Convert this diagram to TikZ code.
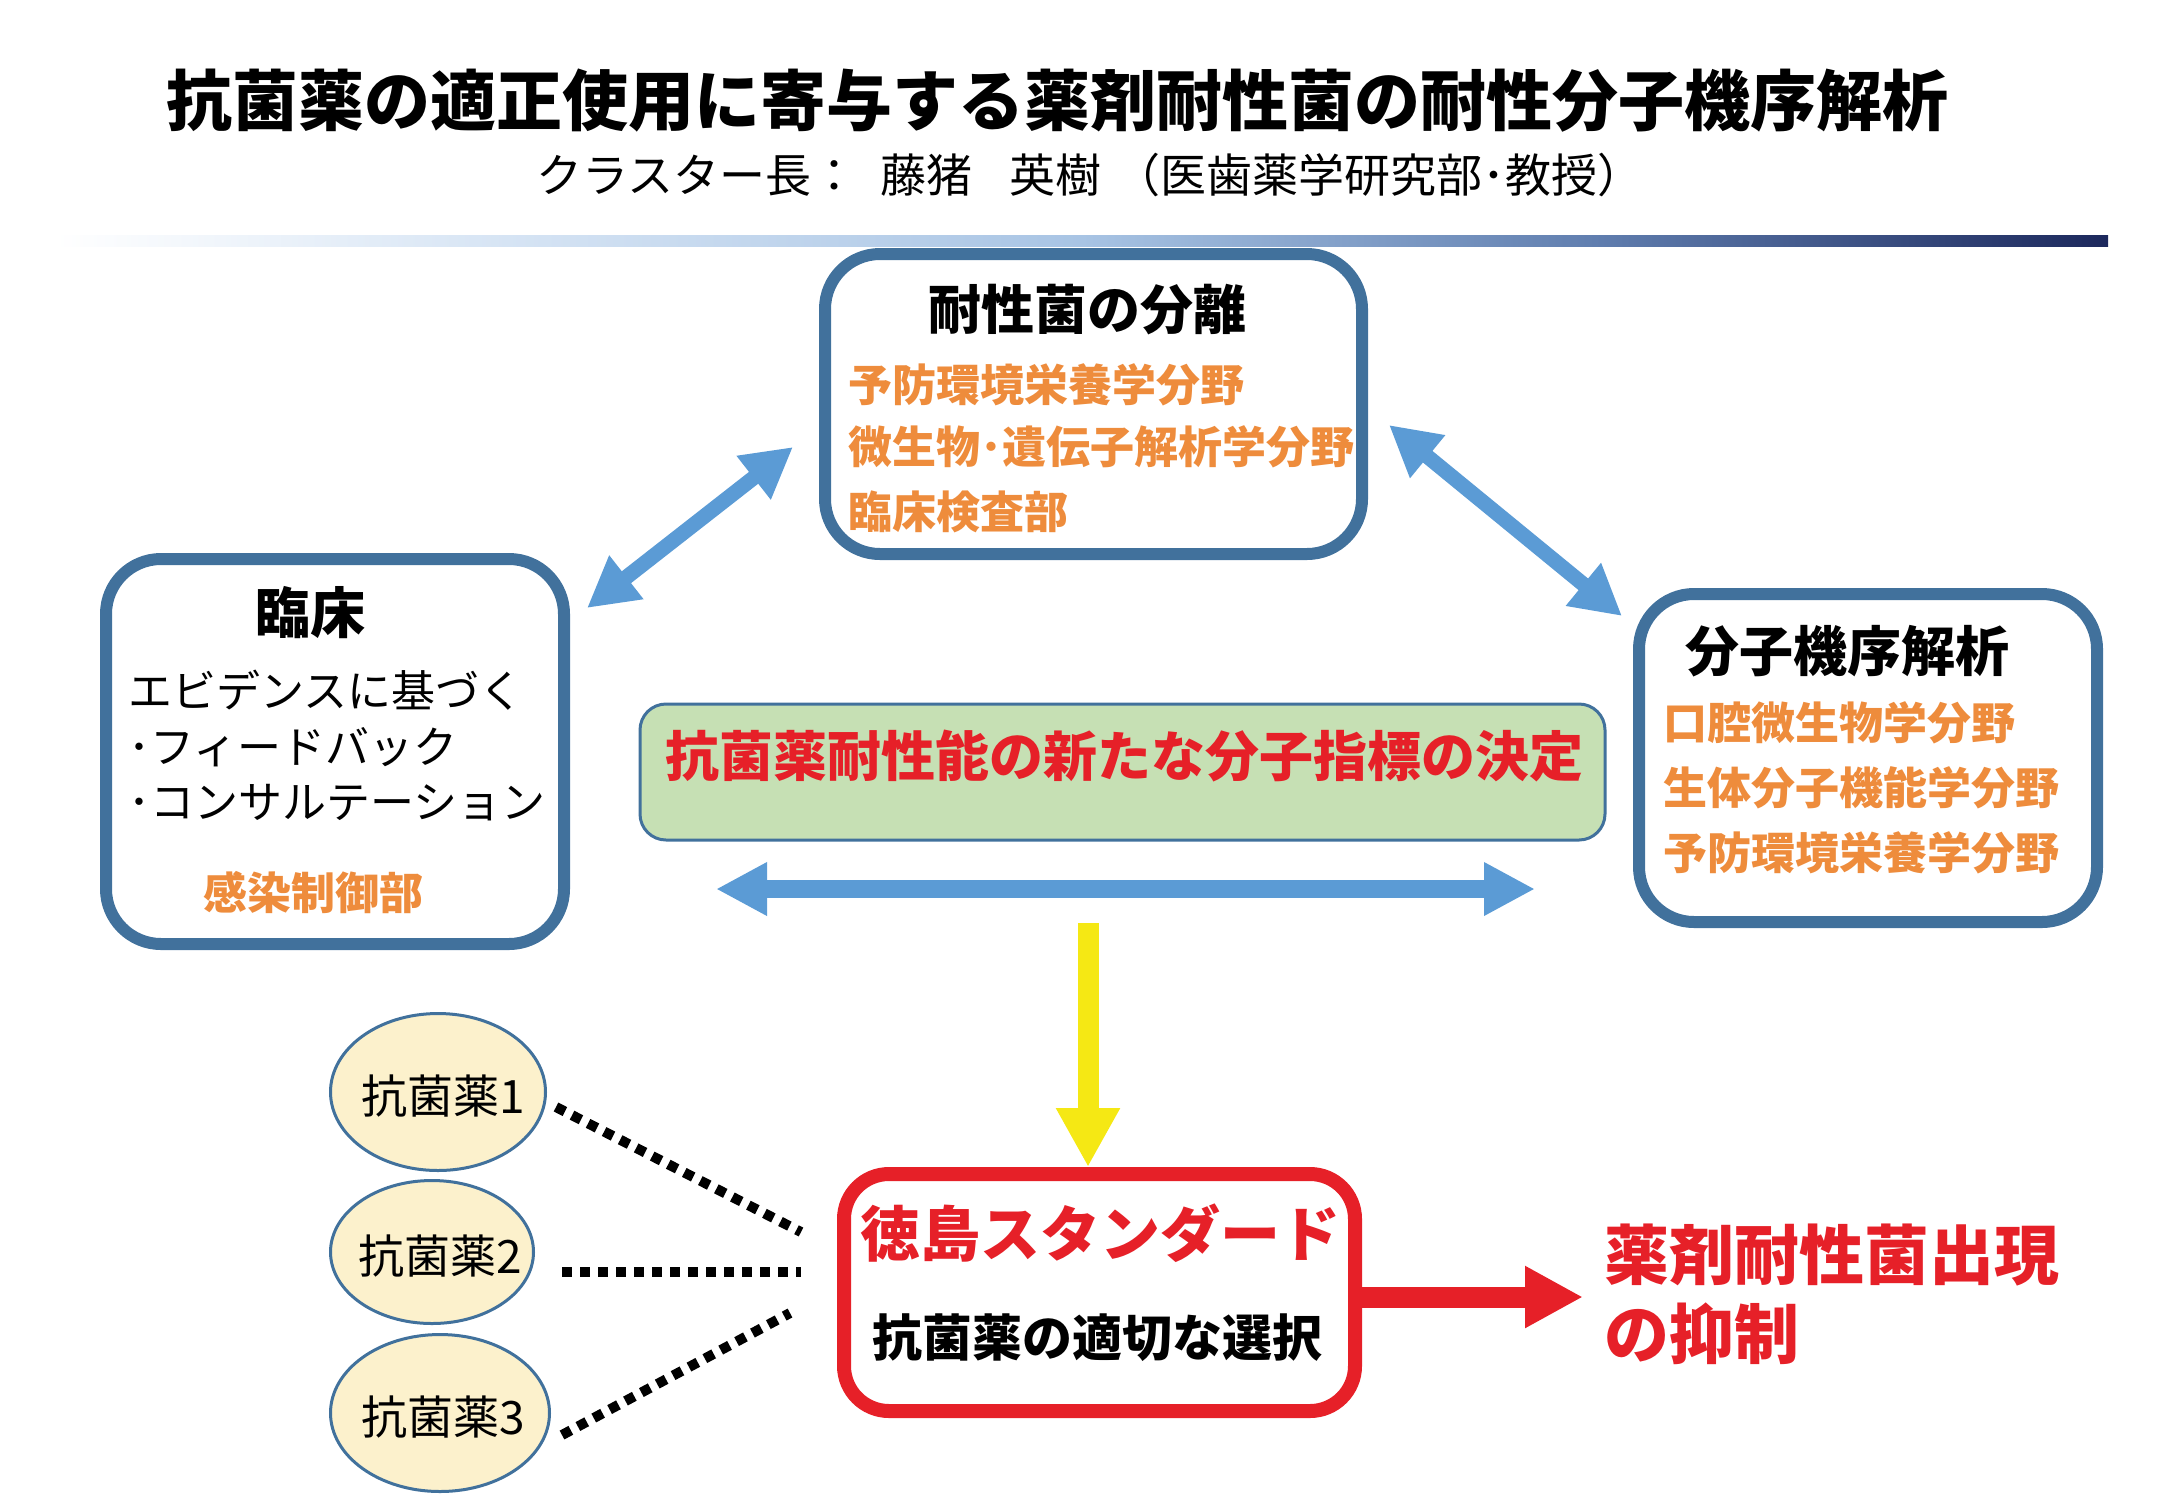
\documentclass[tikz,border=0pt]{standalone}
\usepackage{fontspec}
\setmainfont{Noto Sans CJK JP}
\usetikzlibrary{arrows.meta,shapes.geometric}
\definecolor{boxblue}{RGB}{65,113,156}
\definecolor{arrowblue}{RGB}{91,155,213}
\definecolor{orangetxt}{RGB}{238,140,60}
\definecolor{redtxt}{RGB}{230,32,40}
\definecolor{greenfill}{RGB}{198,224,180}
\definecolor{creamfill}{RGB}{252,241,204}
\definecolor{yellowarrow}{RGB}{245,232,20}
\definecolor{navy}{RGB}{28,40,92}
\definecolor{paleblue}{RGB}{214,228,244}
\definecolor{lightblue}{RGB}{168,196,228}
\definecolor{steelbar}{RGB}{96,126,175}
\pgfdeclarehorizontalshading{barshade}{100bp}{color(0bp)=(white); color(25bp)=(white); color(36bp)=(paleblue); color(50bp)=(lightblue); color(62.5bp)=(steelbar); color(75bp)=(navy); color(100bp)=(navy)}
\newcommand{\setfs}[1]{\fontsize{#1}{#1}\selectfont}
\begin{document}
\begin{tikzpicture}[x=1pt,y=-1pt,
  txt/.style={inner sep=0pt, outer sep=0pt},
  bigbox/.style={draw=boxblue, line width=12pt, rounded corners=55pt, fill=white, inner sep=0pt},
  drug/.style={ellipse, draw=boxblue, line width=3pt, fill=creamfill, inner sep=0pt},
  orangeline/.style={txt, anchor=west, text=orangetxt, font=\setfs{44}\bfseries},
  blackline/.style={txt, anchor=west, font=\setfs{44}},
  bluearrow/.style={draw=arrowblue, line width=#1pt},
  dotline/.style={draw=black, line width=10pt, dash pattern=on 10pt off 8pt}
]
\path[use as bounding box] (0,0) rectangle (2167,1500);

% title
\node[txt, font=\setfs{66}\bfseries] (title) at (1057,101) {抗菌薬の適正使用に寄与する薬剤耐性菌の耐性分子機序解析};
\node[txt, font=\setfs{46}] (sub) at (1090,175) {クラスター長：\hspace{0.5em}藤猪\hspace{0.8em}英樹\hspace{0.3em}（医歯薬学研究部･教授）};

% gradient bar
\shade[shading=barshade] (55,235) rectangle (2108,246);

% boxes
\node[bigbox, minimum width=537pt, minimum height=300pt] (iso) at (1093.5,404) {};
\node[bigbox, minimum width=458pt, minimum height=385pt] (clin) at (335,751.5) {};
\node[bigbox, minimum width=458pt, minimum height=328pt] (mol) at (1868,758) {};
\node[draw=boxblue, line width=3pt, fill=greenfill, rounded corners=26pt, minimum width=965pt, minimum height=136pt, inner sep=0pt] (idx) at (1122.5,772) {};
\node[draw=redtxt, line width=14pt, fill=white, rounded corners=45pt, minimum width=511pt, minimum height=237pt, inner sep=0pt] (std) at (1099.5,1292.5) {};

% top box text
\node[txt, font=\setfs{53}\bfseries] (isoT) at (1087,310) {耐性菌の分離};
\node[orangeline] (iso1) at (848,385) {予防環境栄養学分野};
\node[orangeline] (iso2) at (848,447) {微生物･遺伝子解析学分野};
\node[orangeline] (iso3) at (848,512) {臨床検査部};

% left box text
\node[txt, font=\setfs{55}\bfseries] (clinT) at (310,613) {臨床};
\node[blackline] (cl1) at (128,690) {エビデンスに基づく};
\node[blackline] (cl2) at (128,747) {･フィードバック};
\node[blackline] (cl3) at (128,803) {･コンサルテーション};
\node[txt, text=orangetxt, font=\setfs{44}\bfseries] (cl4) at (313,893) {感染制御部};

% right box text
\node[txt, font=\setfs{54}\bfseries] (molT) at (1847,651) {分子機序解析};
\node[orangeline] (mo1) at (1663,723) {口腔微生物学分野};
\node[orangeline] (mo2) at (1663,788) {生体分子機能学分野};
\node[orangeline] (mo3) at (1663,853) {予防環境栄養学分野};

% green box text
\node[txt, text=redtxt, font=\setfs{54}\bfseries] (idxT) at (1124,756) {抗菌薬耐性能の新たな分子指標の決定};

% standard box text
\node[txt, text=redtxt, font=\setfs{60}\bfseries] (std1) at (1100,1233) {徳島スタンダード};
\node[txt, font=\setfs{50}\bfseries] (std2) at (1097,1338) {抗菌薬の適切な選択};

% result text
\node[txt, anchor=west, text=redtxt, font=\setfs{65}\bfseries] (res1) at (1604,1255) {薬剤耐性菌出現};
\node[txt, anchor=west, text=redtxt, font=\setfs{65}\bfseries] (res2) at (1604,1334) {の抑制};

% drugs
\node[drug, minimum width=215pt, minimum height=157pt] (d1) at (438,1092) {};
\node[drug, minimum width=203pt, minimum height=143pt] (d2) at (432,1252) {};
\node[drug, minimum width=219pt, minimum height=157pt] (d3) at (440,1413) {};
\node[txt, font=\setfs{46}] (d1T) at (443,1096) {抗菌薬1};
\node[txt, font=\setfs{46}] (d2T) at (440,1256) {抗菌薬2};
\node[txt, font=\setfs{46}] (d3T) at (443,1417) {抗菌薬3};

% connector end points
\coordinate (a1s) at (587,608);  \coordinate (a1e) at (793,447);
\coordinate (a2s) at (1389,425); \coordinate (a2e) at (1622,616);
\coordinate (hl) at (716,889);   \coordinate (hr) at (1535,889);
\coordinate (ys) at (1088,923);  \coordinate (ye) at (1088,1167);
\coordinate (rs) at (1358,1297); \coordinate (re) at (1583,1297);
\coordinate (p1s) at (556,1107); \coordinate (p1e) at (801,1232);
\coordinate (p2s) at (562,1272); \coordinate (p2e) at (801,1272);
\coordinate (p3s) at (562,1435); \coordinate (p3e) at (790,1313);

% blue double arrows
\draw[bluearrow=15, {Triangle[length=50pt,width=52pt]}-{Triangle[length=50pt,width=52pt]}] (a1s) -- (a1e);
\draw[bluearrow=15, {Triangle[length=50pt,width=52pt]}-{Triangle[length=50pt,width=52pt]}] (a2s) -- (a2e);
\draw[bluearrow=18, {Triangle[length=51pt,width=50pt]}-{Triangle[length=51pt,width=50pt]}] (hl) -- (hr);

% yellow arrow
\draw[draw=yellowarrow, line width=21pt, -{Triangle[length=59pt,width=60pt]}] (ys) -- (ye);

% red arrow
\draw[draw=redtxt, line width=21pt, -{Triangle[length=58pt,width=58pt]}] (rs) -- (re);

% dotted connectors
\draw[dotline] (p1s) -- (p1e);
\draw[dotline] (p2s) -- (p2e);
\draw[dotline] (p3s) -- (p3e);
\end{tikzpicture}
\end{document}
